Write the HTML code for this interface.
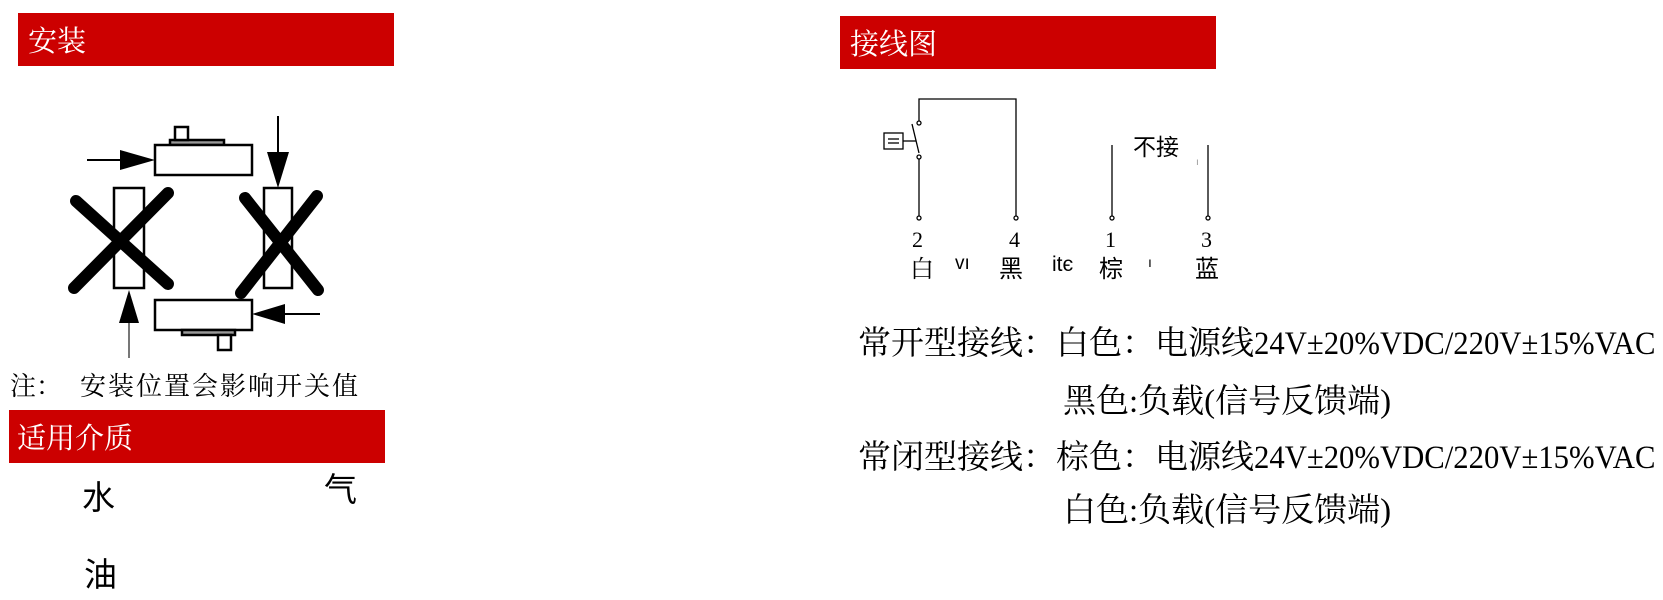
<!DOCTYPE html>
<html><head><meta charset="utf-8">
<style>
body{margin:0;width:1663px;height:600px;background:#fff;position:relative;overflow:hidden;font-family:"Liberation Serif","Noto Serif CJK SC",serif}
.a{position:absolute;white-space:nowrap;line-height:1}
.hdr{position:absolute;background:#cc0000;color:#fff;font-family:"Liberation Serif","Noto Serif CJK SC",serif;font-size:29px;box-sizing:border-box;padding-left:10px;display:flex;align-items:center}
.s{font-family:"Liberation Sans","Noto Sans CJK SC",sans-serif}
.lat{display:inline-block;transform:scaleX(0.93);transform-origin:left center}
</style></head><body>
<div class="hdr" style="left:18px;top:13px;width:376px;height:53px">安装</div>
<div class="hdr" style="left:840px;top:16px;width:376px;height:53px">接线图</div>
<div class="hdr" style="left:9px;top:410px;width:376px;height:53px;padding-left:8px">适用介质</div>

<svg class="a" style="left:0;top:0" width="1663" height="600">
 <g stroke="#000" fill="#fff" stroke-width="2.5">
  <rect x="170" y="140" width="54" height="5" fill="#999"/>
  <rect x="175" y="127" width="13" height="13"/>
  <rect x="155" y="145" width="97" height="30"/>
  <rect x="114" y="188" width="30" height="100"/>
  <rect x="264" y="188" width="28" height="100"/>
  <rect x="155" y="300" width="97" height="30"/>
  <rect x="182" y="330" width="53" height="5" fill="#999"/>
  <rect x="218" y="335" width="13" height="15"/>
 </g>
 <g stroke="#000" stroke-width="2">
  <line x1="87" y1="160" x2="125" y2="160"/>
  <line x1="278" y1="116" x2="278" y2="160"/>
  <line x1="129" y1="322" x2="129" y2="358" stroke="#777"/>
  <line x1="285" y1="314" x2="320" y2="314"/>
 </g>
 <g fill="#000">
  <polygon points="120,150 155,160 120,170"/>
  <polygon points="267,152 289,152 278,188"/>
  <polygon points="119,323 139,323 129,290"/>
  <polygon points="285,304 285,324 252,314"/>
 </g>
 <g stroke="#000" stroke-width="12" stroke-linecap="round">
  <line x1="76" y1="201" x2="168" y2="284"/>
  <line x1="168" y1="193" x2="74" y2="288"/>
  <line x1="245" y1="198" x2="318" y2="290"/>
  <line x1="317" y1="196" x2="241" y2="293"/>
 </g>
 <g stroke="#000" stroke-width="1.3" fill="none">
  <polyline points="919,121 919,99 1016,99 1016,216"/>
  <line x1="919" y1="159" x2="919" y2="216"/>
  <line x1="912" y1="124" x2="919" y2="153"/>
  <line x1="903" y1="141" x2="916" y2="141"/>
  <rect x="884" y="133" width="19" height="16"/>
  <line x1="888" y1="139" x2="899" y2="139"/>
  <line x1="888" y1="143" x2="899" y2="143"/>
  <line x1="1112" y1="145" x2="1112" y2="216"/>
  <line x1="1208" y1="145" x2="1208" y2="216"/>
  <g fill="#fff">
   <circle cx="919" cy="123" r="2"/><circle cx="919" cy="157" r="2"/>
   <circle cx="919" cy="218" r="2"/><circle cx="1016" cy="218" r="2"/>
   <circle cx="1112" cy="218" r="2"/><circle cx="1208" cy="218" r="2"/>
  </g>
 </g>
</svg>

<div class="a s" style="left:1133px;top:136px;font-size:23px">不接</div>
<div class="a s" style="left:1196px;top:158px;font-size:10px;color:#999">ı</div>
<div class="a" style="left:912px;top:229px;font-size:22px">2</div>
<div class="a" style="left:1009px;top:229px;font-size:22px">4</div>
<div class="a" style="left:1105px;top:229px;font-size:22px">1</div>
<div class="a" style="left:1201px;top:229px;font-size:22px">3</div>
<div class="a" style="left:910px;top:258px;font-size:24px">白</div>
<div class="a s" style="left:955px;top:254px;font-size:19px">vı</div>
<div class="a s" style="left:999px;top:258px;font-size:24px">黑</div>
<div class="a s" style="left:1052px;top:254px;font-size:21px">itє</div>
<div class="a s" style="left:1099px;top:258px;font-size:24px">棕</div>
<div class="a s" style="left:1148px;top:255px;font-size:14px">ı</div>
<div class="a s" style="left:1195px;top:258px;font-size:24px">蓝</div>

<div class="a" style="left:858px;top:328px;font-size:33px">常开型接线：白色：电源线<span class="lat">24V±20%VDC/220V±15%VAC</span></div>
<div class="a" style="left:1063px;top:386px;font-size:33px">黑色:负载(信号反馈端)</div>
<div class="a" style="left:858px;top:442px;font-size:33px">常闭型接线：棕色：电源线<span class="lat">24V±20%VDC/220V±15%VAC</span></div>
<div class="a" style="left:1063px;top:495px;font-size:33px">白色:负载(信号反馈端)</div>

<div class="a" style="left:10px;top:374px;font-size:26px">注：</div>
<div class="a" style="left:80px;top:374px;font-size:26px;letter-spacing:2px">安装位置会影响开关值</div>
<div class="a s" style="left:82px;top:481px;font-size:33px">水</div>
<div class="a s" style="left:324px;top:473px;font-size:33px">气</div>
<div class="a s" style="left:84px;top:558px;font-size:33px">油</div>
</body></html>
